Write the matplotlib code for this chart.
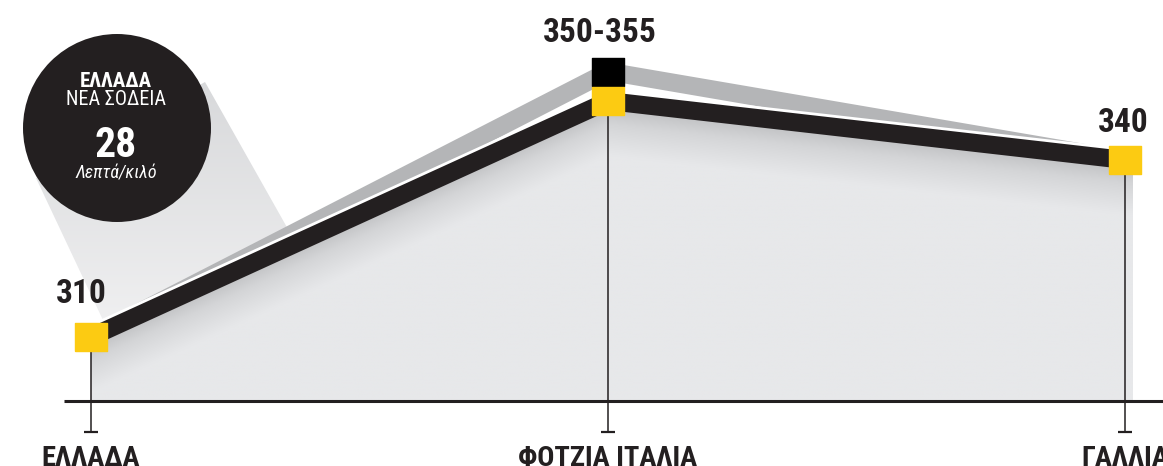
import numpy as np
import matplotlib
matplotlib.use('Agg')
import matplotlib.pyplot as plt
from matplotlib import font_manager
from matplotlib.ft2font import FT2Font
from matplotlib.patches import Circle, Polygon
from matplotlib.colors import LinearSegmentedColormap

# ---------------- data ----------------
categories = ['ΕΛΛΑΔΑ', 'ΦΟΤΖΙΑ ΙΤΑΛΙΑ', 'ΓΑΛΛΙΑ']
low_values = [310, 350, 340]      # black line
high_values = [310, 355, 340]     # grey line
value_labels = ['310', '350-355', '340']
callout_lines = ['ΕΛΛΑΔΑ', 'ΝΕΑ ΣΟΔΕΙΑ', '28', 'Λεπτά/κιλό']

# ---------------- fonts ----------------
def has_greek(name):
    for f in font_manager.fontManager.ttflist:
        if f.name == name:
            try:
                cm = FT2Font(f.fname).get_charmap()
                return 0x39B in cm and 0x3C0 in cm
            except Exception:
                return False
    return False

names = {f.name for f in font_manager.fontManager.ttflist}
FAM = ['DejaVu Sans']
STRETCH = 'condensed'
for cand in ['Roboto Condensed', 'Fira Sans Condensed', 'PT Sans Narrow',
             'Archivo Narrow', 'Open Sans Condensed', 'Liberation Sans Narrow']:
    if cand in names and has_greek(cand):
        FAM = [cand, 'DejaVu Sans']
        STRETCH = 'normal'
        break

W, H = 1163, 466
fig = plt.figure(figsize=(W / 100, H / 100), dpi=100)
ax = fig.add_axes([0, 0, 1, 1])
ax.axis('off')

# pixel layout of the reference
X0, DX = 91, 517
Y0, V0, PPU = 337, 310, 5.9
ax.set_xlim(-X0 / DX, (W - X0) / DX)
ax.set_ylim(V0 - (H - Y0) / PPU, V0 + Y0 / PPU)

def py2v(py):
    return V0 - (py - Y0) / PPU

def px2x(px):
    return (px - X0) / DX

def P(px, py):  # pixel -> inches in figure (for annotation graphics)
    return (px / 100, (H - py) / 100)

pos = np.arange(len(categories))

BLACK = '#231f20'
GREY = '#b4b5b7'
YELLOW = '#fccb12'

# ---------------- callout wedge (shadow) ----------------
wedge = Polygon([P(205, 82), P(293, 238), P(110, 335), P(36, 178)], closed=True,
                transform=fig.dpi_scale_trans, facecolor='none', edgecolor='none')
ax.add_patch(wedge)
wcmap = LinearSegmentedColormap.from_list('w', ['#f1f1f2', '#d8d9db'])
grad = np.linspace(0, 1, 200).reshape(-1, 1)
im = ax.imshow(grad, extent=[*ax.get_xlim(), py2v(340), py2v(80)], origin='lower',
               cmap=wcmap, aspect='auto', zorder=1, interpolation='bilinear')
im.set_clip_path(wedge)

# ---------------- axis line and drop lines ----------------
base_v = py2v(401)
ax.plot([px2x(64), px2x(W + 5)], [base_v, base_v], color=BLACK, lw=2.2,
        solid_capstyle='butt', zorder=6)
tick_v = py2v(432)
ax.vlines(pos, tick_v, low_values, color=BLACK, lw=1.1, zorder=5.5)
ax.hlines([tick_v] * len(pos), pos - 7 / DX, pos + 7 / DX, color=BLACK, lw=1.6, zorder=5.5)

# ---------------- lines ----------------
LW = 13
ax.plot(pos, high_values, color=GREY, lw=LW, solid_joinstyle='miter',
        solid_capstyle='butt', zorder=4)
ax.plot(pos, low_values, color='white', lw=LW + 4, solid_joinstyle='miter',
        solid_capstyle='butt', zorder=4.5)

# ---------------- gradient fill under the black line ----------------
xs = np.linspace(pos[0], pos[-1] + 8 / DX, 600)
line_y = np.interp(xs, pos, low_values)
fill_poly = Polygon(np.column_stack([np.r_[xs, xs[::-1]], np.r_[line_y, np.full_like(xs, base_v)]]),
                    closed=True, facecolor='none', edgecolor='none')
ax.add_patch(fill_poly)
gx = np.linspace(*ax.get_xlim(), 800)
gy = np.linspace(base_v, max(low_values) + 2, 400)
GX, GY = np.meshgrid(gx, gy)
dist_px = (np.interp(GX, pos, low_values) - GY) * PPU
shade = np.clip(dist_px / 55.0, 0, 1) ** 0.8
fcmap = LinearSegmentedColormap.from_list('f', ['#b6b7b9', '#d4d5d7', '#e7e8ea'])
im2 = ax.imshow(shade, extent=[gx[0], gx[-1], gy[0], gy[-1]], origin='lower', cmap=fcmap,
                aspect='auto', zorder=4.7, interpolation='bilinear', vmin=0, vmax=1)
im2.set_clip_path(fill_poly)

ax.plot(pos, low_values, color=BLACK, lw=LW, solid_joinstyle='miter', solid_capstyle='butt',
        zorder=5)

# ---------------- markers ----------------
rect = [(-1, -0.875), (1, -0.875), (1, 0.875), (-1, 0.875), (-1, -0.875)]
hi_idx = [i for i in range(len(pos)) if high_values[i] != low_values[i]]
ax.plot(pos[hi_idx], [high_values[i] for i in hi_idx], ls='none', marker=rect,
        markersize=23, color='#000000', zorder=6.2)
ax.plot(pos, low_values, ls='none', marker=rect, markersize=23, color=YELLOW, zorder=6.5)

# ---------------- value labels ----------------
offsets = [(-10, 34), (-8, 30), (-2, 28)]
for i, (lab, off) in enumerate(zip(value_labels, offsets)):
    ax.annotate(lab, xy=(pos[i], high_values[i]), xytext=off, textcoords='offset pixels',
                ha='center', va='baseline', fontsize=24, fontweight='bold',
                family=FAM, fontstretch=STRETCH, color=BLACK, zorder=7)

# ---------------- category labels ----------------
for i, cat in enumerate(categories):
    ax.text(pos[i], py2v(445), cat, ha='center', va='top', fontsize=20.5, fontweight='bold',
            family=FAM, fontstretch=STRETCH, color=BLACK, zorder=7, clip_on=False)

# ---------------- callout circle ----------------
circ = Circle(P(117, 128), 0.94, transform=fig.dpi_scale_trans, facecolor=BLACK,
              edgecolor='none', zorder=2)
ax.add_patch(circ)
cx = 116
styles = [(87, 15, 'bold', 'normal'), (105, 14.5, 'normal', 'normal'),
          (157, 30, 'bold', 'normal'), (178, 13, 'normal', 'italic')]
for txt, (base_py, fs, fw, fst) in zip(callout_lines, styles):
    ax.text(*P(cx, base_py), txt, transform=fig.dpi_scale_trans, ha='center', va='baseline',
            fontsize=fs, fontweight=fw, fontstyle=fst, family=FAM, fontstretch=STRETCH,
            color='white', zorder=8)

fig.savefig('out.png', dpi=100)
